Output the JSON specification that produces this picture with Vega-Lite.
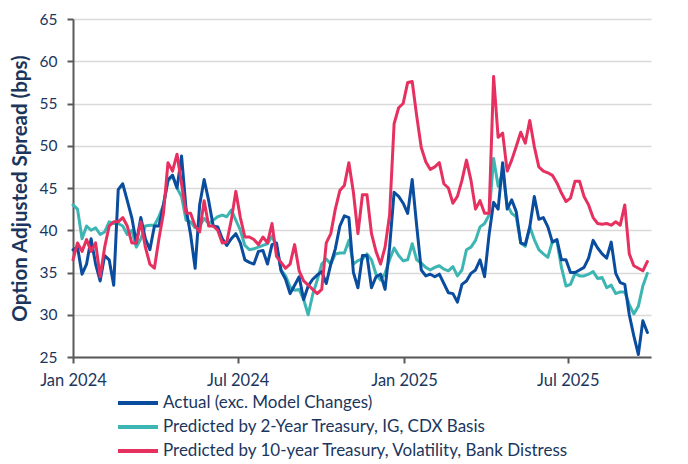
{
  "$schema": "https://vega.github.io/schema/vega-lite/v6.json",
  "width": 578,
  "height": 338,
  "autosize": {"type": "none"},
  "padding": {"left": 73, "top": 19, "right": 37, "bottom": 107},
  "background": "white",
  "config": {"font": "Lato", "view": {"stroke": null}},
  "data": {"values": [
    {"d":"2024-01-01","a":37.7,"b":43,"c":36.5},
    {"d":"2024-01-06","a":38,"b":42.5,"c":38.5},
    {"d":"2024-01-11","a":34.8,"b":39,"c":37.5},
    {"d":"2024-01-16","a":36,"b":40.5,"c":38.9},
    {"d":"2024-01-21","a":39,"b":40,"c":37.5},
    {"d":"2024-01-26","a":36,"b":40.3,"c":38.5},
    {"d":"2024-01-31","a":34,"b":39.5,"c":34.5},
    {"d":"2024-02-05","a":37,"b":39.8,"c":38},
    {"d":"2024-02-10","a":36.5,"b":41,"c":40.5},
    {"d":"2024-02-15","a":33.5,"b":40.8,"c":41},
    {"d":"2024-02-20","a":44.8,"b":40.8,"c":41},
    {"d":"2024-02-25","a":45.5,"b":40.5,"c":41.5},
    {"d":"2024-03-01","a":43.5,"b":39.5,"c":40.5},
    {"d":"2024-03-06","a":41.5,"b":40,"c":38.5},
    {"d":"2024-03-11","a":38.5,"b":38,"c":38.5},
    {"d":"2024-03-16","a":41.5,"b":39,"c":41},
    {"d":"2024-03-21","a":39,"b":40.5,"c":38},
    {"d":"2024-03-26","a":37.7,"b":40.6,"c":36},
    {"d":"2024-03-31","a":40.5,"b":40.6,"c":35.5},
    {"d":"2024-04-05","a":40.5,"b":41.6,"c":39},
    {"d":"2024-04-10","a":43,"b":43,"c":42},
    {"d":"2024-04-15","a":46,"b":45.8,"c":48},
    {"d":"2024-04-20","a":46.5,"b":46.5,"c":47},
    {"d":"2024-04-25","a":45,"b":45,"c":49},
    {"d":"2024-04-30","a":48.8,"b":44,"c":45.5},
    {"d":"2024-05-05","a":42.5,"b":41.2,"c":42},
    {"d":"2024-05-10","a":39.5,"b":41,"c":42},
    {"d":"2024-05-15","a":35.5,"b":40.3,"c":40.5},
    {"d":"2024-05-20","a":43,"b":40.5,"c":39.8},
    {"d":"2024-05-25","a":46,"b":41.4,"c":43.5},
    {"d":"2024-05-30","a":43.5,"b":40.8,"c":40.5},
    {"d":"2024-06-04","a":40.5,"b":41.2,"c":40.5},
    {"d":"2024-06-09","a":40.4,"b":41.6,"c":40},
    {"d":"2024-06-14","a":39,"b":41.8,"c":38.5},
    {"d":"2024-06-19","a":38.2,"b":41.6,"c":38.6},
    {"d":"2024-06-24","a":39,"b":42.4,"c":41.2},
    {"d":"2024-06-29","a":39.6,"b":41.2,"c":44.6},
    {"d":"2024-07-04","a":38.5,"b":40,"c":41.5},
    {"d":"2024-07-09","a":36.5,"b":38.2,"c":39.2},
    {"d":"2024-07-14","a":36.2,"b":37.7,"c":39.2},
    {"d":"2024-07-19","a":36,"b":37.8,"c":38.9},
    {"d":"2024-07-24","a":37.5,"b":38,"c":38.3},
    {"d":"2024-07-29","a":37.6,"b":38.2,"c":39.2},
    {"d":"2024-08-03","a":36,"b":38.4,"c":38.5},
    {"d":"2024-08-08","a":38.3,"b":39.3,"c":40.8},
    {"d":"2024-08-13","a":38.5,"b":38.1,"c":36.9},
    {"d":"2024-08-18","a":35.2,"b":35.3,"c":36.2},
    {"d":"2024-08-23","a":34.2,"b":34.6,"c":35.5},
    {"d":"2024-08-28","a":32.5,"b":33.3,"c":36},
    {"d":"2024-09-02","a":33.5,"b":32.9,"c":38.3},
    {"d":"2024-09-07","a":34.5,"b":33,"c":35.2},
    {"d":"2024-09-12","a":31.8,"b":31.8,"c":34},
    {"d":"2024-09-17","a":33.4,"b":30,"c":33.5},
    {"d":"2024-09-22","a":34.2,"b":32.4,"c":33},
    {"d":"2024-09-27","a":34.7,"b":34.1,"c":32.5},
    {"d":"2024-10-02","a":35.1,"b":36,"c":33},
    {"d":"2024-10-07","a":33.7,"b":36.6,"c":38.5},
    {"d":"2024-10-12","a":36,"b":36,"c":39.6},
    {"d":"2024-10-17","a":37.8,"b":37.2,"c":42.5},
    {"d":"2024-10-22","a":40.5,"b":37.3,"c":44.7},
    {"d":"2024-10-27","a":41.7,"b":37.3,"c":45.3},
    {"d":"2024-11-01","a":41.5,"b":38.8,"c":48},
    {"d":"2024-11-06","a":35,"b":36,"c":44.5},
    {"d":"2024-11-11","a":33.2,"b":36.4,"c":39.6},
    {"d":"2024-11-16","a":37,"b":36.6,"c":44.2},
    {"d":"2024-11-21","a":37,"b":37.2,"c":44.2},
    {"d":"2024-11-26","a":33.2,"b":36.5,"c":39.6},
    {"d":"2024-12-01","a":34.5,"b":34.8,"c":37.5},
    {"d":"2024-12-06","a":34.8,"b":34.1,"c":36},
    {"d":"2024-12-11","a":33,"b":34.9,"c":38},
    {"d":"2024-12-16","a":38,"b":36.5,"c":41.8},
    {"d":"2024-12-21","a":44.5,"b":37.9,"c":52.6},
    {"d":"2024-12-26","a":44,"b":37,"c":54.5},
    {"d":"2024-12-31","a":43.2,"b":36.4,"c":55},
    {"d":"2025-01-05","a":42,"b":36.5,"c":57.5},
    {"d":"2025-01-10","a":46,"b":38.4,"c":57.6},
    {"d":"2025-01-15","a":40.5,"b":36.5,"c":53.5},
    {"d":"2025-01-20","a":35.3,"b":36.1,"c":49.8},
    {"d":"2025-01-25","a":34.6,"b":35.6,"c":48.1},
    {"d":"2025-01-30","a":34.8,"b":35.3,"c":47.2},
    {"d":"2025-02-04","a":34.5,"b":35.6,"c":47.5},
    {"d":"2025-02-09","a":34.8,"b":35.8,"c":48},
    {"d":"2025-02-14","a":33.7,"b":35.4,"c":45.5},
    {"d":"2025-02-19","a":32.6,"b":35.2,"c":45},
    {"d":"2025-02-24","a":32.5,"b":35.7,"c":43.2},
    {"d":"2025-03-01","a":31.5,"b":34.6,"c":44},
    {"d":"2025-03-06","a":33.6,"b":35.3,"c":45.9},
    {"d":"2025-03-11","a":34,"b":37.7,"c":48.3},
    {"d":"2025-03-16","a":34.9,"b":38,"c":45.9},
    {"d":"2025-03-21","a":35.3,"b":38.8,"c":42.5},
    {"d":"2025-03-26","a":36.5,"b":40.4,"c":43.5},
    {"d":"2025-03-31","a":34.5,"b":40.8,"c":42},
    {"d":"2025-04-05","a":39.5,"b":41.8,"c":42},
    {"d":"2025-04-10","a":43.3,"b":48.5,"c":58.2},
    {"d":"2025-04-15","a":42.5,"b":45.2,"c":51},
    {"d":"2025-04-20","a":48,"b":46.8,"c":51.5},
    {"d":"2025-04-25","a":42.5,"b":43,"c":47},
    {"d":"2025-04-30","a":43.6,"b":42,"c":48.3},
    {"d":"2025-05-05","a":42.2,"b":41.6,"c":49.9},
    {"d":"2025-05-10","a":38.5,"b":38.5,"c":51.6},
    {"d":"2025-05-15","a":38.3,"b":38.1,"c":50.3},
    {"d":"2025-05-20","a":40.4,"b":40.4,"c":53},
    {"d":"2025-05-25","a":44,"b":38.9,"c":49.9},
    {"d":"2025-05-30","a":41.3,"b":37.7,"c":47.5},
    {"d":"2025-06-04","a":41.5,"b":37.2,"c":47},
    {"d":"2025-06-09","a":40.4,"b":36.8,"c":46.8},
    {"d":"2025-06-14","a":38.6,"b":38.7,"c":46.5},
    {"d":"2025-06-19","a":38.9,"b":38.7,"c":45.6},
    {"d":"2025-06-24","a":36.5,"b":35.6,"c":44.4},
    {"d":"2025-06-29","a":36.5,"b":33.4,"c":43.4},
    {"d":"2025-07-04","a":35,"b":33.6,"c":43.8},
    {"d":"2025-07-09","a":35,"b":34.9,"c":45.8},
    {"d":"2025-07-14","a":35.3,"b":34.6,"c":45.8},
    {"d":"2025-07-19","a":35.6,"b":34.6,"c":44},
    {"d":"2025-07-24","a":36.7,"b":34.8,"c":43},
    {"d":"2025-07-29","a":38.8,"b":35.1,"c":41.5},
    {"d":"2025-08-03","a":37.9,"b":34.3,"c":40.8},
    {"d":"2025-08-08","a":37.2,"b":34.4,"c":40.7},
    {"d":"2025-08-13","a":36.7,"b":33.2,"c":40.8},
    {"d":"2025-08-18","a":38.6,"b":33.5,"c":40.6},
    {"d":"2025-08-23","a":34.9,"b":32.5,"c":41},
    {"d":"2025-08-28","a":33.8,"b":32.7,"c":40.6},
    {"d":"2025-09-02","a":33.6,"b":32.7,"c":43},
    {"d":"2025-09-07","a":30,"b":31.2,"c":37.2},
    {"d":"2025-09-12","a":27.5,"b":30.1,"c":35.8},
    {"d":"2025-09-17","a":25.3,"b":31,"c":35.5},
    {"d":"2025-09-22","a":29.3,"b":33.4,"c":35.2},
    {"d":"2025-09-27","a":27.9,"b":34.9,"c":36.3}
  ]},
  "transform": [{"fold": ["b", "a", "c"], "as": ["k", "v"]}],
  "mark": {"type": "line", "strokeWidth": 3, "strokeJoin": "round", "strokeCap": "round"},
  "encoding": {
    "x": {
      "field": "d", "type": "temporal",
      "scale": {"type": "utc", "domain": [{"year": 2024, "month": 1, "date": 1, "utc": true}, {"year": 2025, "month": 10, "date": 1, "utc": true}]},
      "axis": {
        "title": null,
        "values": [{"year": 2024, "month": 1, "date": 1, "utc": true}, {"year": 2024, "month": 7, "date": 1, "utc": true}, {"year": 2025, "month": 1, "date": 1, "utc": true}, {"year": 2025, "month": 7, "date": 1, "utc": true}],
        "format": "%b %Y",
        "grid": false,
        "labelFlush": false,
        "labelAlign": "center",
        "domainColor": "#595959", "domainWidth": 2,
        "tickColor": "#595959", "tickWidth": 2, "tickSize": 6,
        "labelFont": "Lato", "labelFontSize": 16.5, "labelColor": "#1B365D", "labelPadding": 9
      }
    },
    "y": {
      "field": "v", "type": "quantitative",
      "scale": {"domain": [25, 65], "nice": false, "zero": false},
      "axis": {
        "values": [25, 30, 35, 40, 45, 50, 55, 60, 65],
        "title": "Option Adjusted Spread (bps)",
        "titleFont": "Lato", "titleFontSize": 20.5, "titleFontWeight": "bold", "titleColor": "#1B365D", "titlePadding": 9,
        "grid": true, "gridColor": "#D9D9D9", "gridWidth": 1.5,
        "domainColor": "#595959", "domainWidth": 2,
        "tickColor": "#595959", "tickWidth": 2, "tickSize": 6,
        "labelFont": "Lato", "labelFontSize": 15.5, "labelColor": "#1B365D", "labelPadding": 10
      }
    },
    "color": {
      "field": "k", "type": "nominal",
      "scale": {"domain": ["a", "b", "c"], "range": ["#0A4D9E", "#3DB5B3", "#E6305F"]},
      "legend": {
        "orient": "none", "legendX": 53, "legendY": 372, "direction": "vertical",
        "title": null, "symbolType": "M-2,0H2", "symbolSize": 400, "symbolStrokeWidth": 4,
        "labelFont": "Lato", "labelFontSize": 17, "labelColor": "#1B365D", "labelOffset": 13,
        "labelLimit": 0,
        "rowPadding": 4,
        "labelExpr": "datum.label == 'a' ? 'Actual (exc. Model Changes)' : datum.label == 'b' ? 'Predicted by 2-Year Treasury, IG, CDX Basis' : 'Predicted by 10-year Treasury, Volatility, Bank Distress'"
      }
    }
  }
}
